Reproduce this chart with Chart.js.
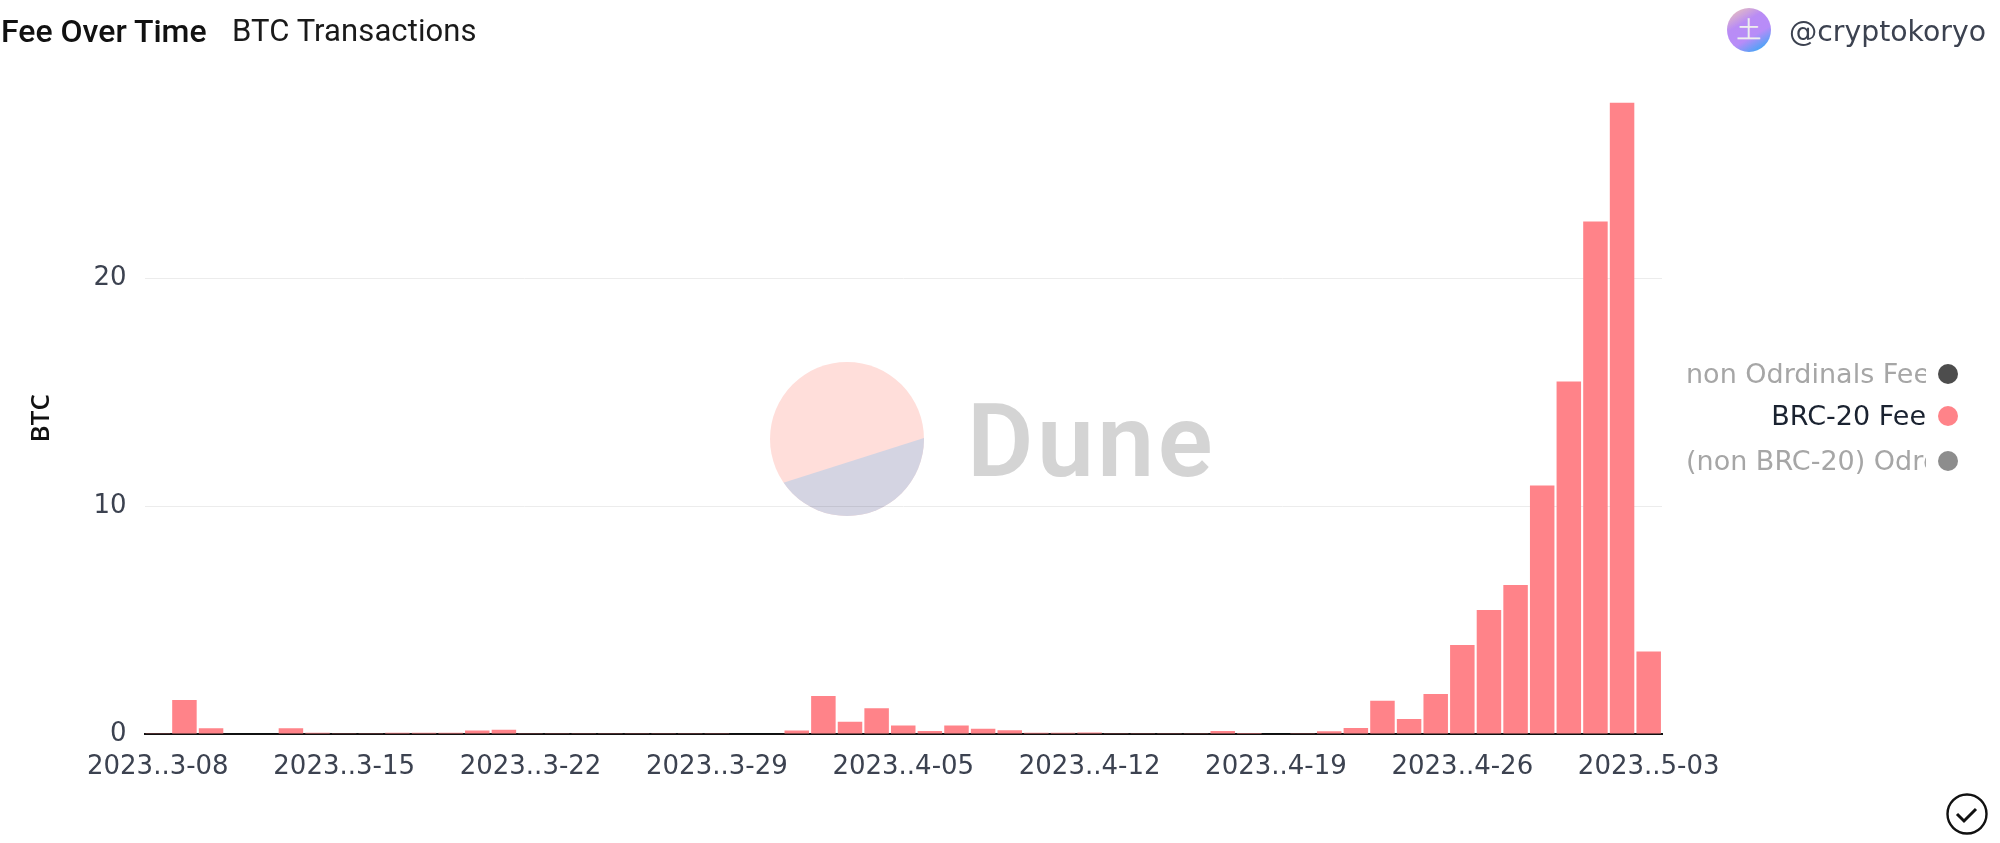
<!DOCTYPE html>
<html><head><meta charset="utf-8">
<style>
html,body{margin:0;padding:0;background:#fff;width:2000px;height:843px;overflow:hidden;font-family:Roboto,sans-serif}
#wrap{position:relative;width:2000px;height:843px}
canvas{position:absolute;left:0;top:0}
.t{position:absolute;white-space:nowrap}
#t1{left:1px;top:12px;font-size:32px;font-weight:500;color:#111}
#t2{left:232px;top:12px;font-size:31px;color:#1a1a1a;letter-spacing:.1px}
#user{left:1789px;top:15px;font:28.3px "DejaVu Sans",sans-serif;color:#3c4250}
#avatar{position:absolute;left:1727px;top:8px;width:44px;height:44px;border-radius:50%;background:linear-gradient(150deg,#f3cdb0 0%,#b98cf5 35%,#b78cf8 62%,#15b0f5 100%);color:#eee;font-size:24px;line-height:44px;text-align:center}
.leg{position:absolute;height:36px;overflow:hidden;white-space:nowrap;font:27px "DejaVu Sans",sans-serif;line-height:36px}
.dot{position:absolute;left:1938px;width:20px;height:20px;border-radius:50%}
#dune{position:absolute;left:967px;top:380px;font:600 102px Roboto,sans-serif;color:#d4d4d4;line-height:122px;letter-spacing:3.5px}
#mark{position:absolute;left:0;top:0;mix-blend-mode:multiply}
</style></head><body>
<div id="wrap">
<canvas id="c" width="2000" height="843"></canvas>
<svg id="mark" width="2000" height="843">
<defs><clipPath id="pc"><circle cx="847" cy="439" r="77"/></clipPath></defs>
<circle cx="847" cy="439" r="77" fill="#ffdeda"/>
<polygon points="770,487 924,438 930,530 770,530" fill="#d4d4e2" clip-path="url(#pc)"/>
</svg>
<div id="dune">Dune</div>
<div class="t" id="t1">Fee Over Time</div>
<div class="t" id="t2">BTC Transactions</div>
<div id="avatar">土</div>
<div class="t" id="user">@cryptokoryo</div>
<div id="legend"></div>
<svg style="position:absolute;left:1945px;top:793px" width="44" height="44"><circle cx="22" cy="21" r="19.5" fill="none" stroke="#111" stroke-width="2.4"/><path d="M12 21l7 7 12-12" fill="none" stroke="#111" stroke-width="3"/></svg>
</div>
<script src="https://cdn.jsdelivr.net/npm/chart.js@4"></script>
<script>
const categories = ["2023-03-08","2023-03-09","2023-03-10","2023-03-11","2023-03-12","2023-03-13","2023-03-14",
"2023-03-15","2023-03-16","2023-03-17","2023-03-18","2023-03-19","2023-03-20","2023-03-21",
"2023-03-22","2023-03-23","2023-03-24","2023-03-25","2023-03-26","2023-03-27","2023-03-28",
"2023-03-29","2023-03-30","2023-03-31","2023-04-01","2023-04-02","2023-04-03","2023-04-04",
"2023-04-05","2023-04-06","2023-04-07","2023-04-08","2023-04-09","2023-04-10","2023-04-11",
"2023-04-12","2023-04-13","2023-04-14","2023-04-15","2023-04-16","2023-04-17","2023-04-18",
"2023-04-19","2023-04-20","2023-04-21","2023-04-22","2023-04-23","2023-04-24","2023-04-25",
"2023-04-26","2023-04-27","2023-04-28","2023-04-29","2023-04-30","2023-05-01","2023-05-02","2023-05-03"];
const brc20Fee = [0.01,1.49,0.25,0.02,0.02,0.25,0.05,
0.03,0.03,0.05,0.06,0.05,0.15,0.19,
0.01,0.01,0.01,0.01,0.01,0.01,0.01,
0.01,0.02,0.02,0.15,1.67,0.54,1.13,
0.37,0.13,0.37,0.23,0.16,0.06,0.06,
0.07,0.01,0.01,0.01,0.01,0.13,0.04,
0.02,0.03,0.12,0.26,1.46,0.66,1.75,
3.9,5.44,6.54,10.9,15.46,22.48,27.7,3.62];
const tickLabels = ["2023..3-08","2023..3-15","2023..3-22","2023..3-29","2023..4-05","2023..4-12","2023..4-19","2023..4-26","2023..5-03"];
const legendNames = ["non Odrdinals Fee","BRC-20 Fee","(non BRC-20) Odrdinals Fee"];
const legendColors = ["#4d4d4d","#ff8389","#8d8d8d"];
const legendText = ["#a6a6a6","#1a2230","#a6a6a6"];
const legendY = [374,416,461];

const lg=document.getElementById('legend');
legendNames.forEach((n,i)=>{
  const d=document.createElement('div');d.className='leg';d.style.top=(legendY[i]-18)+'px';d.style.color=legendText[i];
  d.style.textAlign=i===2?'left':'right';
  d.style.left='1686px';d.style.width='240px';
  d.textContent=n;lg.appendChild(d);
  const c=document.createElement('div');c.className='dot';c.style.top=(legendY[i]-10)+'px';c.style.background=legendColors[i];lg.appendChild(c);
});

new Chart(document.getElementById('c'),{
  type:'bar',
  data:{labels:categories,datasets:[{label:"BRC-20 Fee",data:brc20Fee,backgroundColor:"#ff8389",barPercentage:0.92,categoryPercentage:1}]},
  options:{
    responsive:false,animation:false,
    layout:{padding:{left:0,top:102.5,right:338,bottom:0}},
    plugins:{legend:{display:false},tooltip:{enabled:false}},
    scales:{
      x:{
        grid:{display:false,drawTicks:false},
        border:{display:true,color:"#111",width:2},
        afterFit(s){s.height=109;},
        ticks:{autoSkip:false,maxRotation:0,minRotation:0,padding:18,color:"#3c4250",
          font:{family:"'DejaVu Sans'",size:26},
          callback(v,i){return i%7===0?tickLabels[i/7]:'';}}
      },
      y:{
        min:0,max:27.7,
        afterFit(s){s.width=144.5;},
        afterBuildTicks(s){s.ticks=[{value:0},{value:10},{value:20}];},
        border:{display:false},
        grid:{drawTicks:false,color:c=>c.tick.value===0?'rgba(0,0,0,0)':'#ececec',lineWidth:1},
        title:{display:true,text:"BTC",color:"#111",font:{family:"'Open Sans'",size:26,weight:'600'},padding:{top:26,bottom:0}},
        ticks:{padding:18,color:"#3c4250",font:{family:"'DejaVu Sans'",size:26}}
      }
    }
  }
});
</script>
</body></html>
